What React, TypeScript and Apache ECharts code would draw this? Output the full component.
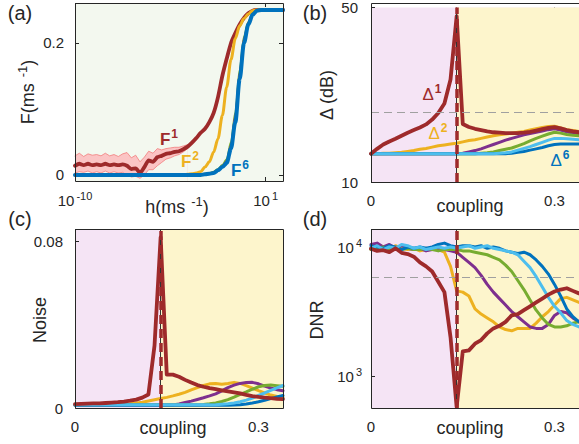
import React, { useEffect, useRef } from 'react';
import * as echarts from 'echarts';

// ---------- Panel (a): F vs h (x stored as log10 h) ----------
const logH = [-10, -9.75, -9.5, -9.25, -9, -8.75, -8.5, -8.25, -8, -7.75, -7.5, -7.25, -7, -6.75, -6.5, -6.25, -6, -5.75, -5.5, -5.25, -5, -4.75, -4.5, -4.25, -4, -3.75, -3.5, -3.25, -3, -2.75, -2.5, -2.25, -2, -1.75, -1.5, -1.25, -1, -0.75, -0.5, -0.25, 0, 0.25, 0.5, 0.75, 1, 1.5, 2];
const F1 = [0.014, 0.017, 0.015, 0.017, 0.015, 0.016, 0.015, 0.017, 0.015, 0.016, 0.015, 0.016, 0.014, 0.009, 0.010, 0.003, 0.012, 0.022, 0.020, 0.027, 0.029, 0.032, 0.033, 0.035, 0.036, 0.039, 0.043, 0.049, 0.056, 0.064, 0.070, 0.080, 0.094, 0.118, 0.150, 0.176, 0.200, 0.215, 0.228, 0.238, 0.245, 0.249, 0.250, 0.250, 0.250, 0.250, 0.250];
const F2 = [0, 0, 0, 0, 0, 0, 0, 0, 0, 0, 0, 0, 0, 0, 0, 0, 0, 0, 0, 0, 0, 0, 0, 0, 0.0005, 0.0008, 0.001, 0.002, 0.003, 0.005, 0.012, 0.020, 0.035, 0.055, 0.090, 0.133, 0.175, 0.207, 0.226, 0.237, 0.244, 0.249, 0.250, 0.250, 0.250, 0.250, 0.250];
const F3 = [0, 0, 0, 0, 0, 0, 0, 0, 0, 0, 0, 0, 0, 0, 0, 0, 0, 0, 0, 0, 0, 0, 0, 0, 0, 0, 0, 0, 0.0005, 0.001, 0.002, 0.003, 0.005, 0.009, 0.015, 0.024, 0.050, 0.095, 0.160, 0.210, 0.232, 0.245, 0.250, 0.250, 0.250, 0.250, 0.250];
const F4 = [0, 0, 0, 0, 0, 0, 0, 0, 0, 0, 0, 0, 0, 0, 0, 0, 0, 0, 0, 0, 0, 0, 0, 0, 0, 0, 0, 0, 0.0005, 0.001, 0.0015, 0.0025, 0.004, 0.008, 0.013, 0.021, 0.045, 0.090, 0.155, 0.207, 0.231, 0.244, 0.250, 0.250, 0.250, 0.250, 0.250];
const F5 = [0, 0, 0, 0, 0, 0, 0, 0, 0, 0, 0, 0, 0, 0, 0, 0, 0, 0, 0, 0, 0, 0, 0, 0, 0, 0, 0, 0, 0, 0.0005, 0.001, 0.002, 0.003, 0.007, 0.012, 0.019, 0.042, 0.085, 0.150, 0.203, 0.229, 0.243, 0.249, 0.250, 0.250, 0.250, 0.250];
const F6 = [0, 0, 0, 0, 0, 0, 0, 0, 0, 0, 0, 0, 0, 0, 0, 0, 0, 0, 0, 0, 0, 0, 0, 0, 0, 0, 0, 0, 0, 0, 0.001, 0.002, 0.003, 0.007, 0.012, 0.018, 0.040, 0.080, 0.145, 0.200, 0.228, 0.243, 0.249, 0.250, 0.250, 0.250, 0.250];
const bandX = [-10, -9.75, -9.5, -9.25, -9, -8.75, -8.5, -8.25, -8, -7.75, -7.5, -7.25, -7, -6.75, -6.5, -6.25, -6, -5.75, -5.5, -5.25, -5, -4.75, -4.5, -4.25, -4, -3.75, -3.5];
const bandHigh = [0.029, 0.033, 0.028, 0.032, 0.030, 0.031, 0.029, 0.033, 0.029, 0.031, 0.028, 0.032, 0.034, 0.026, 0.030, 0.020, 0.027, 0.036, 0.033, 0.040, 0.038, 0.040, 0.041, 0.042, 0.042, 0.044, 0.046];
const bandLow = [0.003, 0.005, 0.004, 0.006, 0.003, 0.005, 0.003, 0.006, 0.003, 0.005, 0.003, 0.004, 0.000, -0.003, -0.002, -0.005, 0.000, 0.008, 0.008, 0.014, 0.019, 0.024, 0.026, 0.029, 0.031, 0.035, 0.040];
const aXTicks = [-10, 1];
const aYTicks = [0, 0.2];

// ---------- Shared coupling grid ----------
const coupling = [0, 0.01, 0.02, 0.03, 0.04, 0.05, 0.06, 0.07, 0.08, 0.09, 0.1, 0.11, 0.12, 0.13, 0.14, 0.15, 0.16, 0.17, 0.18, 0.19, 0.2, 0.21, 0.22, 0.23, 0.24, 0.25, 0.26, 0.27, 0.28, 0.29, 0.3, 0.31, 0.32, 0.33, 0.34];
const criticalCoupling = 0.14;
const couplingTicks = [0, 0.3];

// ---------- Panel (b): Delta (dB) ----------
const delta1 = [16.5, 17.6, 18.6, 19.3, 19.9, 20.6, 21.3, 21.9, 22.5, 23.2, 24.3, 25.8, 28.0, 33.5, 48.0, 23.3, 22.6, 22.2, 21.9, 21.6, 21.4, 21.3, 21.2, 21.2, 21.2, 21.3, 21.5, 21.8, 22.1, 22.4, 22.6, 22.3, 21.9, 21.6, 21.4];
const delta2 = [16.5, 16.5, 16.6, 16.6, 16.7, 16.8, 17.0, 17.2, 17.5, 17.7, 18.0, 18.3, 18.5, 18.7, 18.9, 19.2, 19.5, 19.7, 20.0, 20.3, 20.6, 20.8, 21.0, 21.2, 21.4, 21.6, 21.9, 22.2, 22.5, 22.7, 22.8, 22.4, 22.0, 21.8, 21.6];
const delta3 = [16.5, 16.5, 16.5, 16.5, 16.5, 16.5, 16.5, 16.5, 16.5, 16.5, 16.5, 16.5, 16.5, 16.5, 16.5, 16.6, 16.9, 17.2, 17.6, 18.1, 18.6, 19.1, 19.6, 20.0, 20.4, 20.8, 21.1, 21.4, 21.7, 22.0, 22.2, 21.9, 21.5, 21.2, 21.0];
const delta4 = [16.5, 16.5, 16.5, 16.5, 16.5, 16.5, 16.5, 16.5, 16.5, 16.5, 16.5, 16.5, 16.5, 16.5, 16.5, 16.5, 16.5, 16.5, 16.6, 16.7, 16.9, 17.2, 17.5, 17.8, 18.3, 18.8, 19.4, 20.0, 20.5, 21.0, 21.4, 21.2, 20.9, 20.7, 20.6];
const delta5 = [16.5, 16.5, 16.5, 16.5, 16.5, 16.5, 16.5, 16.5, 16.5, 16.5, 16.5, 16.5, 16.5, 16.5, 16.5, 16.5, 16.5, 16.5, 16.5, 16.5, 16.5, 16.6, 16.7, 16.9, 17.3, 17.7, 18.1, 18.6, 19.1, 19.6, 20.0, 20.0, 19.9, 19.8, 19.7];
const delta6 = [16.5, 16.5, 16.5, 16.5, 16.5, 16.5, 16.5, 16.5, 16.5, 16.5, 16.5, 16.5, 16.5, 16.5, 16.5, 16.5, 16.5, 16.5, 16.5, 16.5, 16.5, 16.5, 16.5, 16.6, 16.8, 17.0, 17.3, 17.6, 17.9, 18.3, 18.6, 18.7, 18.7, 18.7, 18.7];
const deltaThreshold = 26;
const bYTicks = [10, 50];

// ---------- Panel (c): Noise ----------
const noise1 = [0.0019, 0.002, 0.0021, 0.0022, 0.0022, 0.0024, 0.0026, 0.0028, 0.0031, 0.0035, 0.004, 0.005, 0.0065, 0.03, 0.082, 0.016, 0.016, 0.015, 0.0135, 0.0122, 0.011, 0.0102, 0.0095, 0.009, 0.0085, 0.008, 0.0075, 0.007, 0.0063, 0.0057, 0.0053, 0.005, 0.0047, 0.0044, 0.0043];
const noise2 = [0.0014, 0.0014, 0.0014, 0.0015, 0.0015, 0.0015, 0.0016, 0.0017, 0.0018, 0.002, 0.0024, 0.0028, 0.0034, 0.004, 0.0046, 0.0051, 0.0058, 0.0066, 0.0075, 0.0087, 0.0098, 0.0108, 0.0116, 0.0118, 0.0114, 0.0118, 0.0123, 0.0118, 0.0107, 0.0095, 0.0083, 0.0072, 0.0062, 0.0055, 0.0051];
const noise3 = [0.0015, 0.0015, 0.0015, 0.0015, 0.0015, 0.0015, 0.0015, 0.0015, 0.0015, 0.0015, 0.0015, 0.0015, 0.0015, 0.0015, 0.0015, 0.0015, 0.0015, 0.0019, 0.0026, 0.0033, 0.0041, 0.0049, 0.0058, 0.0068, 0.0082, 0.0098, 0.011, 0.0118, 0.0122, 0.0123, 0.0116, 0.0105, 0.0096, 0.0088, 0.0083];
const noise4 = [0.0015, 0.0015, 0.0015, 0.0015, 0.0015, 0.0015, 0.0015, 0.0015, 0.0015, 0.0015, 0.0015, 0.0015, 0.0015, 0.0015, 0.0015, 0.0015, 0.0015, 0.0015, 0.0015, 0.0015, 0.0015, 0.0017, 0.002, 0.0024, 0.0031, 0.004, 0.0052, 0.0065, 0.0077, 0.009, 0.0102, 0.0108, 0.011, 0.0107, 0.0104];
const noise5 = [0.0015, 0.0015, 0.0015, 0.0015, 0.0015, 0.0015, 0.0015, 0.0015, 0.0015, 0.0015, 0.0015, 0.0015, 0.0015, 0.0015, 0.0015, 0.0015, 0.0015, 0.0015, 0.0015, 0.0015, 0.0015, 0.0015, 0.0015, 0.0016, 0.0018, 0.002, 0.0024, 0.003, 0.0038, 0.0048, 0.006, 0.0072, 0.0085, 0.0097, 0.0108];
const noise6 = [0.0013, 0.0013, 0.0013, 0.0013, 0.0013, 0.0013, 0.0013, 0.0013, 0.0013, 0.0013, 0.0013, 0.0013, 0.0013, 0.0013, 0.0013, 0.0013, 0.0013, 0.0013, 0.0013, 0.0013, 0.0013, 0.0013, 0.0013, 0.0013, 0.0013, 0.0013, 0.0014, 0.0016, 0.0019, 0.0024, 0.003, 0.0037, 0.0045, 0.0053, 0.006];
const noiseThreshold = 0.0046;
const cYTicks = [0, 0.08];

// ---------- Panel (d): DNR ----------
const dnr1 = [9700, 9330, 9440, 9120, 9770, 9020, 8810, 8410, 7590, 7080, 6460, 5370, 4470, 2000, 575, 1550, 1580, 1780, 1900, 2140, 2340, 2450, 2630, 2950, 3020, 3240, 3470, 3720, 3980, 4270, 4520, 4680, 4790, 4570, 4370];
const dnr2 = [9770, 10470, 10000, 9550, 10230, 9770, 9550, 9770, 9330, 9550, 9770, 9550, 9120, 7080, 4570, 4470, 4170, 3310, 3020, 2820, 2630, 2400, 2290, 2240, 2340, 2340, 2340, 2570, 2880, 3160, 3550, 3980, 4070, 3890, 3720];
const dnr3 = [10470, 10720, 10000, 10470, 9770, 10230, 9770, 9550, 9770, 9330, 9550, 9770, 9550, 9330, 9120, 8320, 7590, 6920, 6030, 5130, 4470, 3980, 3550, 3160, 2880, 2630, 2400, 2340, 2340, 2510, 2950, 3160, 3090, 2820, 2630];
const dnr4 = [9550, 9770, 10000, 9550, 9770, 9550, 9770, 9550, 9550, 9770, 9550, 9330, 9550, 9550, 9550, 9330, 9330, 9120, 8910, 8710, 8320, 7940, 7240, 6460, 5500, 4680, 3890, 3240, 2820, 2510, 2400, 2400, 2450, 2570, 2630];
const dnr5 = [9770, 10230, 9550, 10000, 9770, 10470, 10230, 9770, 10000, 9550, 9770, 10000, 9770, 10000, 9770, 10000, 10230, 9770, 10000, 10230, 9770, 9550, 9330, 9120, 8710, 7760, 6920, 5890, 4900, 4070, 3470, 3090, 2690, 2510, 2400];
const dnr6 = [10230, 10000, 9770, 10230, 10000, 9550, 10000, 9770, 10000, 9770, 10000, 10470, 10720, 10230, 10000, 10230, 10230, 10000, 10230, 9770, 10000, 9770, 9330, 9120, 8910, 9120, 8710, 7940, 7080, 6170, 5130, 4170, 3310, 2880, 2630];
const dnrThreshold = 5780;

// ---------- styling ----------
const FONT = 'Liberation Sans, Arial, Helvetica, sans-serif';
const TXT = '#262626';
const C_RED = '#9e2a2b';
const C_ORANGE = '#edb120';
const C_PURPLE = '#7e2f8e';
const C_GREEN = '#77ac30';
const C_LBLUE = '#4dbeee';
const C_BLUE = '#0072bd';
const PINK = '#f5e4f5';
const YELLOW = '#fdf5cc';
const GREEN_BG = '#f3f8ef';
const BAND_FILL = '#fbc4c4';
const BAND_EDGE = '#f27d7d';

const pairs = (xs: number[], ys: number[]) => xs.map((x, i) => [x, ys[i]]);

const GRIDS = [
  { left: 75, top: 3, width: 208, height: 178 },
  { left: 371, top: 3, width: 215, height: 179 },
  { left: 75, top: 229, width: 208, height: 179 },
  { left: 371, top: 229, width: 215, height: 179 },
];

const supRich = {
  b: { fontSize: 15, fontFamily: FONT, color: TXT },
  s: { fontSize: 11, fontFamily: FONT, color: TXT, padding: [0, 0, 9, 2] },
};

function textEl(x: number, y: number, text: string, rich: any, rotate = false) {
  return {
    type: 'text',
    x,
    y,
    rotation: rotate ? Math.PI / 2 : 0,
    z: 100,
    style: {
      text,
      rich,
      fill: TXT,
      font: `18px ${FONT}`,
      textAlign: 'center',
      textVerticalAlign: 'middle',
      align: 'center',
      verticalAlign: 'middle',
    },
  };
}

function titleRich(color = TXT, size = 18, bold = false) {
  return {
    a: { fontSize: size, fontFamily: FONT, fill: color, color, fontWeight: bold ? 'bold' : 'normal' },
    s: { fontSize: Math.round(size * 0.72), fontFamily: FONT, fill: color, color, fontWeight: bold ? 'bold' : 'normal', padding: [0, 0, Math.round(size * 0.6), 1] },
    sb: { fontSize: Math.round(size * 0.72), fontFamily: FONT, fill: color, color, fontWeight: 'bold', padding: [0, 0, Math.round(size * 0.6), 1] },
  };
}

export default function App() {
  const ref = useRef<HTMLDivElement>(null);

  useEffect(() => {
    if (!ref.current) return;
    const chart = echarts.init(ref.current, undefined, { renderer: 'svg' });

    const tickStyle = { inside: true, length: 4, lineStyle: { color: TXT, width: 1 } };
    const labelBase = { color: TXT, fontSize: 15, fontFamily: FONT };
    const noLine = { show: false, onZero: false };

    const xRanges = [
      { min: -10, max: 2, ticks: aXTicks },
      { min: 0, max: 0.34, ticks: couplingTicks },
      { min: 0, max: 0.34, ticks: couplingTicks },
      { min: 0, max: 0.34, ticks: couplingTicks },
    ];
    const yRanges = [
      { min: -0.0091, max: 0.2606, ticks: aYTicks },
      { min: 10, max: 50, ticks: bYTicks },
      { min: 0, max: 0.0859, ticks: cYTicks },
    ];

    const xAxis: any[] = [
      {
        gridIndex: 0, type: 'value', min: -10, max: 2,
        axisLine: noLine, splitLine: { show: false },
        axisTick: { ...tickStyle, customValues: aXTicks },
        axisLabel: {
          ...labelBase, margin: 9, customValues: aXTicks,
          formatter: (v: number) => `{b|10}{s|${v}}`,
          rich: supRich,
        },
      },
      ...[1, 2, 3].map((g) => ({
        gridIndex: g, type: 'value', min: 0, max: 0.34,
        axisLine: noLine, splitLine: { show: false },
        axisTick: { ...tickStyle, customValues: couplingTicks },
        axisLabel: { ...labelBase, margin: 11, customValues: couplingTicks, formatter: (v: number) => (v === 0 ? '0' : String(v)) },
      })),
      ...xRanges.map((r, g) => ({
        gridIndex: g, type: 'value', position: 'top', min: r.min, max: r.max,
        axisLine: noLine, splitLine: { show: false },
        axisTick: { ...tickStyle, customValues: r.ticks },
        axisLabel: { show: false },
      })),
    ];

    const yAxis: any[] = [
      {
        gridIndex: 0, type: 'value', min: -0.0091, max: 0.2606,
        axisLine: noLine, splitLine: { show: false },
        axisTick: { ...tickStyle, customValues: aYTicks },
        axisLabel: { ...labelBase, margin: 11, customValues: aYTicks, formatter: (v: number) => (v === 0 ? '0' : String(v)) },
      },
      {
        gridIndex: 1, type: 'value', min: 10, max: 50,
        axisLine: noLine, splitLine: { show: false },
        axisTick: { ...tickStyle, customValues: bYTicks },
        axisLabel: { ...labelBase, margin: 13, customValues: bYTicks },
      },
      {
        gridIndex: 2, type: 'value', min: 0, max: 0.0859,
        axisLine: noLine, splitLine: { show: false },
        axisTick: { ...tickStyle, customValues: cYTicks },
        axisLabel: { ...labelBase, margin: 12, customValues: cYTicks, formatter: (v: number) => (v === 0 ? '0' : String(v)) },
      },
      {
        gridIndex: 3, type: 'log', logBase: 10, min: 565, max: 13790,
        axisLine: noLine, splitLine: { show: false }, minorTick: { show: false },
        axisTick: { ...tickStyle },
        axisLabel: {
          ...labelBase, margin: 9,
          showMinLabel: false, showMaxLabel: false,
          formatter: (v: number) => {
            const e = Math.log10(v);
            if (Math.abs(e - Math.round(e)) > 1e-6) return '';
            return `{b|10}{s|${Math.round(e)}}`;
          },
          rich: supRich,
        },
      },
      ...[0, 2].map((g) => ({
        gridIndex: g, type: 'value', position: 'right', min: yRanges[g].min, max: yRanges[g].max,
        axisLine: noLine, splitLine: { show: false },
        axisTick: { ...tickStyle, customValues: yRanges[g].ticks },
        axisLabel: { show: false },
      })),
    ];

    const line = (grid: number, xs: number[], ys: number[], color: string, width: number, extra: any = {}) => ({
      type: 'line',
      xAxisIndex: grid,
      yAxisIndex: grid,
      data: pairs(xs, ys),
      showSymbol: false,
      symbol: 'none',
      silent: true,
      lineStyle: { color, width, cap: 'round', join: 'round' },
      itemStyle: { color },
      ...extra,
    });

    const couplingDecor = (grid: number, thresholdY: number) => ({
      markArea: {
        silent: true,
        itemStyle: { color: YELLOW, opacity: 1 },
        data: [[{ xAxis: criticalCoupling }, { xAxis: 0.34 }]],
      },
      markLine: {
        silent: true,
        symbol: 'none',
        label: { show: false },
        data: [
          { xAxis: criticalCoupling, lineStyle: { color: '#333333', width: 1, type: 'solid' } },
          { yAxis: thresholdY, lineStyle: { color: '#a0a0a0', width: 1, type: [8, 5] } },
        ],
      },
    });

    const redDash = {
      markLine: {
        silent: true,
        symbol: 'none',
        label: { show: false },
        z: 6,
        data: [{ xAxis: criticalCoupling, lineStyle: { color: C_RED, width: 3.5, type: [9, 5] } }],
      },
    };

    const W = 3;
    const WR = 3.8;
    const sm = { smooth: 0.3, smoothMonotone: 'x' };
    const series: any[] = [
      // (a) shaded band: upper edge filled pink down to the axis start, lower edge masks it with the background
      line(0, bandX, bandHigh, BAND_EDGE, 0.8, { areaStyle: { color: BAND_FILL, opacity: 1, origin: 'start' } }),
      line(0, bandX, bandLow, BAND_EDGE, 0.8, { areaStyle: { color: GREEN_BG, opacity: 1, origin: 'start' } }),
      line(0, logH, F1, C_RED, WR, { smooth: 0.2 }),
      line(0, logH, F2, C_ORANGE, W, sm),
      line(0, logH, F3, C_GREEN, 2, sm),
      line(0, logH, F4, C_PURPLE, 2, sm),
      line(0, logH, F5, C_LBLUE, 2, sm),
      line(0, logH, F6, C_BLUE, 4, sm),
      // (b)
      line(1, coupling, delta2, C_ORANGE, W, couplingDecor(1, deltaThreshold)),
      line(1, coupling, delta3, C_PURPLE, W),
      line(1, coupling, delta4, C_GREEN, W),
      line(1, coupling, delta6, C_BLUE, W),
      line(1, coupling, delta5, C_LBLUE, W),
      line(1, coupling, delta1, C_RED, WR, redDash),
      // (c)
      line(2, coupling, noise2, C_ORANGE, W, couplingDecor(2, noiseThreshold)),
      line(2, coupling, noise3, C_PURPLE, W),
      line(2, coupling, noise4, C_GREEN, W),
      line(2, coupling, noise6, C_BLUE, W),
      line(2, coupling, noise5, C_LBLUE, W),
      line(2, coupling, noise1, C_RED, WR, redDash),
      // (d)
      line(3, coupling, dnr2, C_ORANGE, W, couplingDecor(3, dnrThreshold)),
      line(3, coupling, dnr3, C_PURPLE, W),
      line(3, coupling, dnr4, C_GREEN, W),
      line(3, coupling, dnr6, C_BLUE, W),
      line(3, coupling, dnr5, C_LBLUE, W),
      line(3, coupling, dnr1, C_RED, WR, redDash),
    ];

    const border = (g: any) => ({
      type: 'rect',
      z: 90,
      silent: true,
      shape: { x: g.left + 0.5, y: g.top + 0.5, width: g.width, height: g.height },
      style: { fill: 'none', stroke: TXT, lineWidth: 1 },
    });

    const graphic: any[] = [
      ...GRIDS.map(border),
      textEl(20, 13, '{a|(a)}', titleRich(TXT, 20)),
      textEl(315, 13, '{a|(b)}', titleRich(TXT, 20)),
      textEl(20, 219, '{a|(c)}', titleRich(TXT, 20)),
      textEl(315, 219, '{a|(d)}', titleRich(TXT, 20)),
      textEl(28, 92, '{a|F(ms }{s|-1}{a|)}', titleRich(), true),
      textEl(177, 207, '{a|h(ms }{s|-1}{a|)}', titleRich()),
      textEl(327, 95, '{a|Δ (dB)}', titleRich(), true),
      textEl(470, 206, '{a|coupling}', titleRich()),
      textEl(40, 320, '{a|Noise}', titleRich(), true),
      textEl(173, 428, '{a|coupling}', titleRich()),
      textEl(317, 320, '{a|DNR}', titleRich(), true),
      textEl(470, 428, '{a|coupling}', titleRich()),
      textEl(169, 139, '{a|F}{sb|1}', titleRich(C_RED, 17, true)),
      textEl(190, 161, '{a|F}{sb|2}', titleRich(C_ORANGE, 17, true)),
      textEl(240, 170, '{a|F}{sb|6}', titleRich(C_BLUE, 17, true)),
      textEl(432, 94, '{a|Δ}{sb|1}', titleRich(C_RED, 17)),
      textEl(438, 133, '{a|Δ}{sb|2}', titleRich(C_ORANGE, 17)),
      textEl(560, 160, '{a|Δ}{sb|6}', titleRich(C_BLUE, 17)),
    ];

    chart.setOption({
      animation: false,
      textStyle: { fontFamily: FONT },
      grid: GRIDS.map((g, i) => ({
        ...g,
        show: true,
        borderWidth: 0,
        backgroundColor: i === 0 ? GREEN_BG : PINK,
        containLabel: false,
      })),
      xAxis,
      yAxis,
      series,
      graphic,
    });

    return () => chart.dispose();
  }, []);

  return <div ref={ref} style={{ position: 'absolute', left: 0, top: 0, width: 579, height: 444 }} />;
}
